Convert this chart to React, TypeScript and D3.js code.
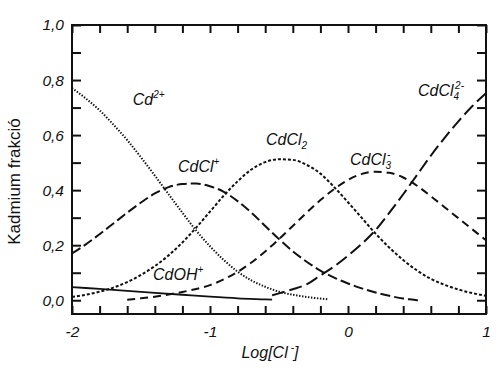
import React, { useRef, useEffect } from 'react';
import * as d3 from 'd3';

// tick labels (comma decimals, as on the original)
const xTickLabels = ['-2', '-1', '0', '1'];
const xTickValues = [-2, -1, 0, 1];
const yTickLabels = ['0,0', '0,2', '0,4', '0,6', '0,8', '1,0'];
const yTickValues = [0, 0.2, 0.4, 0.6, 0.8, 1.0];

// Cd2+
const cdX = [-2, -1.9, -1.8, -1.7, -1.6, -1.5, -1.4, -1.3, -1.2, -1.1, -1.0, -0.9, -0.8, -0.7, -0.6, -0.5, -0.4, -0.3, -0.2, -0.15];
const cdY = [0.771, 0.733, 0.69, 0.638, 0.582, 0.519, 0.453, 0.385, 0.318, 0.253, 0.196, 0.146, 0.104, 0.072, 0.049, 0.031, 0.02, 0.012, 0.006, 0.004];

// CdCl+
const cdClX = [-2, -1.9, -1.8, -1.7, -1.6, -1.5, -1.4, -1.3, -1.2, -1.1, -1.0, -0.9, -0.8, -0.7, -0.6, -0.5, -0.4, -0.3, -0.2, -0.1, 0, 0.1, 0.2, 0.3, 0.4, 0.5, 0.53];
const cdClY = [0.17, 0.203, 0.24, 0.279, 0.318, 0.355, 0.388, 0.411, 0.422, 0.424, 0.414, 0.394, 0.36, 0.318, 0.27, 0.222, 0.178, 0.14, 0.108, 0.082, 0.061, 0.043, 0.028, 0.016, 0.006, 0.0, -0.003];

// CdCl2
const cdCl2X = [-2, -1.9, -1.8, -1.7, -1.6, -1.5, -1.4, -1.3, -1.2, -1.1, -1.0, -0.9, -0.8, -0.7, -0.6, -0.5, -0.4, -0.3, -0.2, -0.1, 0, 0.1, 0.2, 0.3, 0.4, 0.5, 0.6, 0.7, 0.8, 0.9, 1.0];
const cdCl2Y = [0.012, 0.02, 0.031, 0.046, 0.066, 0.092, 0.124, 0.163, 0.21, 0.264, 0.322, 0.38, 0.432, 0.475, 0.502, 0.512, 0.51, 0.492, 0.46, 0.411, 0.356, 0.299, 0.242, 0.191, 0.146, 0.108, 0.078, 0.056, 0.039, 0.026, 0.016];

// CdCl3-
const cdCl3X = [-1.6, -1.5, -1.4, -1.3, -1.2, -1.1, -1.0, -0.9, -0.8, -0.7, -0.6, -0.5, -0.4, -0.3, -0.2, -0.1, 0, 0.1, 0.2, 0.3, 0.4, 0.5, 0.6, 0.7, 0.8, 0.9, 1.0];
const cdCl3Y = [0.002, 0.007, 0.013, 0.021, 0.03, 0.041, 0.055, 0.076, 0.103, 0.137, 0.177, 0.222, 0.27, 0.318, 0.364, 0.404, 0.437, 0.459, 0.467, 0.463, 0.446, 0.416, 0.378, 0.338, 0.298, 0.258, 0.218];

// CdCl4 2-
const cdCl4X = [-0.55, -0.5, -0.4, -0.3, -0.2, -0.1, 0, 0.1, 0.2, 0.3, 0.4, 0.5, 0.6, 0.7, 0.8, 0.9, 1.0];
const cdCl4Y = [0.018, 0.025, 0.04, 0.058, 0.09, 0.123, 0.162, 0.205, 0.255, 0.318, 0.385, 0.455, 0.525, 0.59, 0.65, 0.705, 0.752];

// CdOH+
const cdOhX = [-2, -1.8, -1.6, -1.4, -1.2, -1.0, -0.8, -0.6, -0.55];
const cdOhY = [0.048, 0.041, 0.034, 0.027, 0.02, 0.013, 0.007, 0.003, 0.002];

const series = [
  { xs: cdX, ys: cdY, dash: '1.4,1.6', width: 2 },
  { xs: cdClX, ys: cdClY, dash: '10,4', width: 2 },
  { xs: cdCl2X, ys: cdCl2Y, dash: '3,2', width: 2 },
  { xs: cdCl3X, ys: cdCl3Y, dash: '8,5', width: 2 },
  { xs: cdCl4X, ys: cdCl4Y, dash: '13,5', width: 2 },
  { xs: cdOhX, ys: cdOhY, dash: null, width: 1.8 },
];

// species labels: [text, kind] parts, anchored in data units
const speciesLabels = [
  { at: [-1.56, 0.709], parts: [['Cd', 'n'], ['2+', 'sup']] },
  { at: [-1.232, 0.465], parts: [['CdCl', 'n'], ['+', 'sup']] },
  { at: [-0.594, 0.564], parts: [['CdCl', 'n'], ['2', 'sub']] },
  { at: [0.014, 0.491], parts: [['CdCl', 'n'], ['3', 'sub'], ['-', 'stack']] },
  { at: [0.507, 0.742], parts: [['CdCl', 'n'], ['4', 'sub'], ['2-', 'stack']] },
  { at: [-1.413, 0.073], parts: [['CdOH', 'n'], ['+', 'sup']] },
];

const FONT = "'Liberation Sans', Arial, sans-serif";
const INK = '#111';

const Chart = ({ width = 500, height = 373 }) => {
  const ref = useRef<SVGSVGElement>(null);

  useEffect(() => {
    const svg = d3.select(ref.current);
    const margin = { top: 25, right: 14, bottom: 59, left: 72 };
    svg.selectAll('*').remove();

    const x = d3.scaleLinear().domain([-2, 1]).range([margin.left, width - margin.right]);
    const y = d3.scaleLinear().domain([-0.05, 1.0]).range([height - margin.bottom, margin.top]);

    const xMinor = d3.range(-20, 11, 2).map(v => v / 10);
    const yMinor = d3.range(0, 11).map(v => v / 10);
    const xLabel = (d: number) => {
      const i = xTickValues.indexOf(d);
      return i >= 0 ? xTickLabels[i] : '';
    };
    const yLabel = (d: number) => {
      const i = yTickValues.findIndex(v => Math.abs(v - d) < 1e-9);
      return i >= 0 ? yTickLabels[i] : '';
    };

    const styleAxis = g => g
      .call(g => g.select('.domain').remove())
      .call(g => g.selectAll('line').attr('stroke', INK).attr('stroke-width', 2))
      .call(g => g.selectAll('text')
        .attr('fill', INK)
        .attr('font-family', FONT)
        .attr('font-style', 'italic')
        .attr('font-size', 15.5));

    svg.append('g')
      .attr('transform', `translate(0,${height - margin.bottom})`)
      .call(d3.axisBottom(x).tickValues(xMinor).tickSize(-8).tickPadding(12).tickFormat(xLabel))
      .call(styleAxis);

    svg.append('g')
      .attr('transform', `translate(0,${margin.top})`)
      .call(d3.axisTop(x).tickValues(xMinor).tickSize(-8).tickFormat(() => ''))
      .call(styleAxis);

    svg.append('g')
      .attr('transform', `translate(${margin.left},0)`)
      .call(d3.axisLeft(y).tickValues(yMinor).tickSize(-9).tickPadding(8).tickFormat(yLabel))
      .call(styleAxis);

    svg.append('g')
      .attr('transform', `translate(${width - margin.right},0)`)
      .call(d3.axisRight(y).tickValues(yMinor).tickSize(-9).tickFormat(() => ''))
      .call(styleAxis);

    // frame
    svg.append('rect')
      .attr('x', margin.left)
      .attr('y', margin.top)
      .attr('width', width - margin.left - margin.right)
      .attr('height', height - margin.top - margin.bottom)
      .attr('fill', 'none')
      .attr('stroke', INK)
      .attr('stroke-width', 2);

    const line = d3.line<[number, number]>()
      .x(d => x(d[0]))
      .y(d => y(d[1]))
      .curve(d3.curveMonotoneX);

    series.forEach(s => {
      const pts = s.xs.map((v, i) => [v, s.ys[i]] as [number, number]);
      svg.append('path')
        .datum(pts)
        .attr('fill', 'none')
        .attr('stroke', INK)
        .attr('stroke-width', s.width)
        .attr('stroke-dasharray', s.dash)
        .attr('d', line);
    });

    // species labels
    speciesLabels.forEach(lab => {
      const t = svg.append('text')
        .attr('x', x(lab.at[0]))
        .attr('y', y(lab.at[1]))
        .attr('font-family', FONT)
        .attr('font-style', 'italic')
        .attr('font-size', 16)
        .attr('fill', INK);
      let cur = 0;
      lab.parts.forEach(([txt, kind]) => {
        const target = kind === 'sub' ? 4 : kind === 'n' ? 0 : -7;
        const ts = t.append('tspan').text(txt).attr('dy', target - cur);
        if (kind !== 'n') ts.attr('font-size', 10);
        if (kind === 'stack') ts.attr('dx', -4);
        cur = target;
      });
    });

    // axis titles
    const xt = svg.append('text')
      .attr('x', 270)
      .attr('y', 358)
      .attr('text-anchor', 'middle')
      .attr('font-family', FONT)
      .attr('font-style', 'italic')
      .attr('font-size', 16)
      .attr('fill', INK);
    xt.append('tspan').text('Log[Cl');
    xt.append('tspan').text('-').attr('font-size', 10).attr('dx', 3).attr('dy', -7);
    xt.append('tspan').text(']').attr('dy', 7);

    svg.append('text')
      .attr('transform', `translate(20,${(margin.top + height - margin.bottom) / 2 + 12}) rotate(-90)`)
      .attr('text-anchor', 'middle')
      .attr('font-family', FONT)
      .attr('font-size', 17)
      .attr('fill', INK)
      .text('Kadmium frakció');
  }, [width, height]);

  return (
    <svg
      ref={ref}
      width={width}
      height={height}
      style={{ position: 'fixed', left: 0, top: 0, background: '#fff' }}
    />
  );
};

export default function App() {
  return <Chart />;
}
